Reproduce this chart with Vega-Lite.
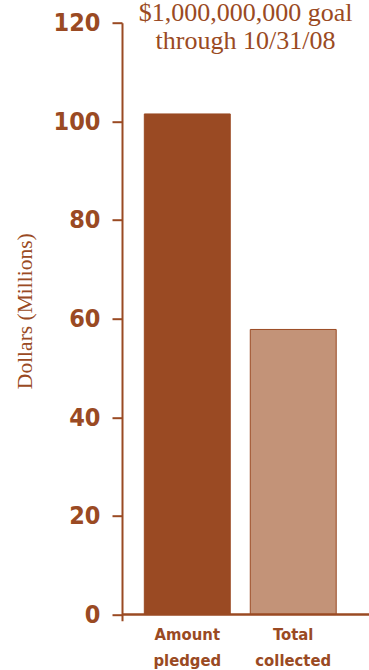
{
  "$schema": "https://vega.github.io/schema/vega-lite/v6.json",
  "autosize": {"type": "none"},
  "width": 247,
  "height": 598,
  "padding": {"left": 122, "top": 22.7, "right": 0, "bottom": 49.3},
  "background": "white",
  "title": {
    "text": ["$1,000,000,000 goal", "through 10/31/08"],
    "anchor": "middle",
    "frame": "group",
    "orient": "top",
    "offset": -29,
    "dy": 40,
    "baseline": "bottom",
    "font": "Liberation Serif",
    "fontSize": 26,
    "fontWeight": "normal",
    "lineHeight": 28,
    "color": "#9A4A23"
  },
  "data": {
    "values": [
      {"category": "Amount pledged", "dollars": 101.5},
      {"category": "Total collected", "dollars": 57.8}
    ]
  },
  "config": {
    "view": {"stroke": null},
    "axis": {"grid": false}
  },
  "layer": [
    {
      "mark": {"type": "bar", "stroke": "#9A4A23", "strokeWidth": 1},
      "encoding": {
        "x": {
          "field": "category",
          "type": "nominal",
          "sort": null,
          "scale": {"paddingInner": 0.189, "paddingOuter": 0.26, "align": 0.405},
          "axis": {
            "title": null,
            "domain": false,
            "ticks": false,
            "tickSize": 0,
            "labelAngle": 0,
            "labelExpr": "split(datum.label, ' ')",
            "labelFont": "DejaVu Sans Condensed",
            "labelFontWeight": "bold",
            "labelFontSize": 16.5,
            "labelLineHeight": 26,
            "labelColor": "#9A4A23",
            "labelPadding": 6,
            "labelBaseline": "top"
          }
        },
        "y": {
          "field": "dollars",
          "type": "quantitative",
          "scale": {"domain": [-1.25, 120], "nice": false, "zero": false},
          "axis": {
            "values": [0, 20, 40, 60, 80, 100, 120],
            "title": "Dollars (Millions)",
            "titleFont": "Liberation Serif",
            "titleFontSize": 21.5,
            "titleFontWeight": "normal",
            "titleColor": "#9A4A23",
            "titleAngle": -90,
            "titleBaseline": "middle",
            "titleAlign": "center",
            "titleX": -97,
            "titleY": 288,
            "domainColor": "#9A4A23",
            "domainWidth": 2,
            "tickColor": "#9A4A23",
            "tickWidth": 2,
            "tickSize": 10,
            "labelFont": "DejaVu Sans Condensed",
            "labelFontWeight": "bold",
            "labelFontSize": 25,
            "labelColor": "#9A4A23",
            "labelPadding": 12
          }
        },
        "y2": {"datum": 0},
        "color": {
          "field": "category",
          "type": "nominal",
          "scale": {"range": ["#9A4A23", "#C39378"]},
          "legend": null
        }
      }
    },
    {
      "mark": {"type": "rule", "color": "#9A4A23", "strokeWidth": 2},
      "encoding": {
        "y": {"datum": 0, "type": "quantitative"}
      }
    }
  ]
}
